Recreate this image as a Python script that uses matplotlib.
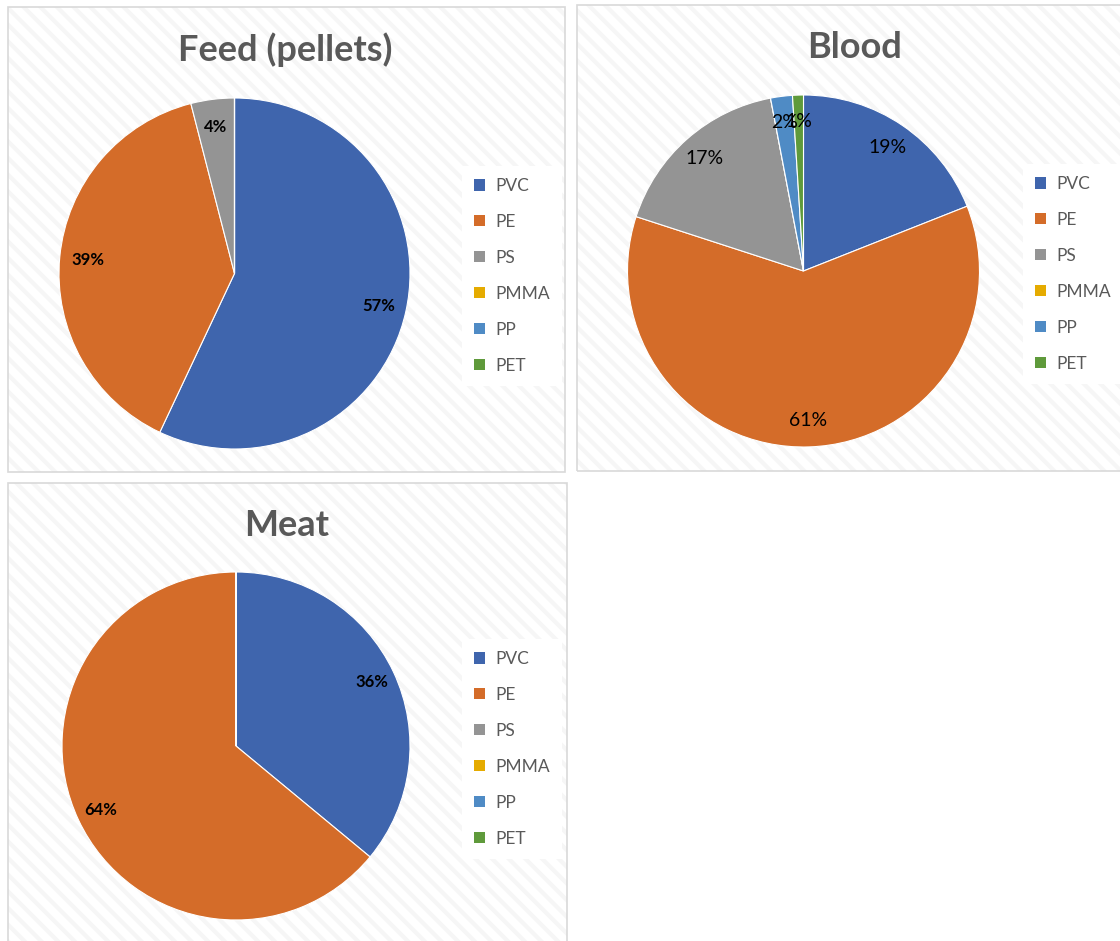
import matplotlib.pyplot as plt
from matplotlib.patches import Rectangle, Patch

plt.rcParams['font.family'] = ['Lato', 'DejaVu Sans']
plt.rcParams['hatch.linewidth'] = 3.0

# datos
polymers = ["PVC", "PE", "PS", "PMMA", "PP", "PET"]
colors = ["#3F65AD", "#D46C29", "#949494", "#E5AB00", "#4F8BC5", "#5F9A3B"]
feed = [57, 39, 4, 0, 0, 0]
blood = [19, 61, 17, 0, 2, 1]
meat = [36, 64, 0, 0, 0, 0]

W, H = 1120, 941
fig = plt.figure(figsize=(W / 100, H / 100), dpi=100)


def rect_px(x0, y0, x1, y1):
    return [x0 / W, 1 - y1 / H, (x1 - x0) / W, (y1 - y0) / H]


def panel(x0, y0, x1, y1):
    l, b, w, h = rect_px(x0, y0, x1, y1)
    fig.patches.append(Rectangle((l, b), w, h, transform=fig.transFigure,
                                 facecolor="white", edgecolor="#F6F6F6",
                                 hatch="\\\\", linewidth=0, zorder=-3))
    fig.patches.append(Rectangle((l, b), w, h, transform=fig.transFigure,
                                 facecolor="none", edgecolor="#D9D9D9",
                                 linewidth=1.2, zorder=-2))


def pie_chart(values, cx, cy, r, title, tx, ty, bold, fsize, pctd, leg_x, leg_y):
    ax = fig.add_axes(rect_px(cx - r, cy - r, cx + r, cy + r))
    ax.set_zorder(2)
    ax.pie(values, colors=colors, startangle=90, counterclock=False,
           radius=1, pctdistance=pctd,
           autopct=lambda p: f"{p:.0f}%" if p > 0 else "",
           wedgeprops={"edgecolor": "white", "linewidth": 0.8},
           textprops={"fontsize": fsize, "color": "black",
                      "fontweight": "bold" if bold else "normal"})
    ax.set_xlim(-1, 1)
    ax.set_ylim(-1, 1)
    ax.set_aspect("equal")
    ax.axis("off")
    fig.text(tx / W, 1 - ty / H, title, ha="center", va="center",
             fontsize=26, fontweight="bold", color="#595959")
    handles = [Patch(facecolor=c, edgecolor="none") for c in colors]
    leg = fig.legend(handles, polymers, loc="upper left",
                     bbox_to_anchor=(leg_x / W, 1 - leg_y / H),
                     frameon=True, fancybox=False, edgecolor="none",
                     facecolor="white", framealpha=1.0,
                     fontsize=12.5, labelspacing=1.15,
                     handlelength=0.65, handleheight=0.65, handletextpad=0.6,
                     borderpad=0.7)
    leg.set_zorder(3)
    for t in leg.get_texts():
        t.set_color("#595959")


panel(8, 7, 565, 472)
panel(577, 5, 1125, 471)
panel(8, 483, 567, 950)

pie_chart(feed, 234.5, 273.5, 175.5, "Feed (pellets)", 285, 50, True, 12, 0.84, 453, 157)
pie_chart(blood, 803.5, 271, 176, "Blood", 855, 47, False, 14, 0.85, 1014, 155)
pie_chart(meat, 236, 746, 174, "Meat", 287, 525, True, 12, 0.86, 453, 630)

fig.savefig("out.png", dpi=100)
